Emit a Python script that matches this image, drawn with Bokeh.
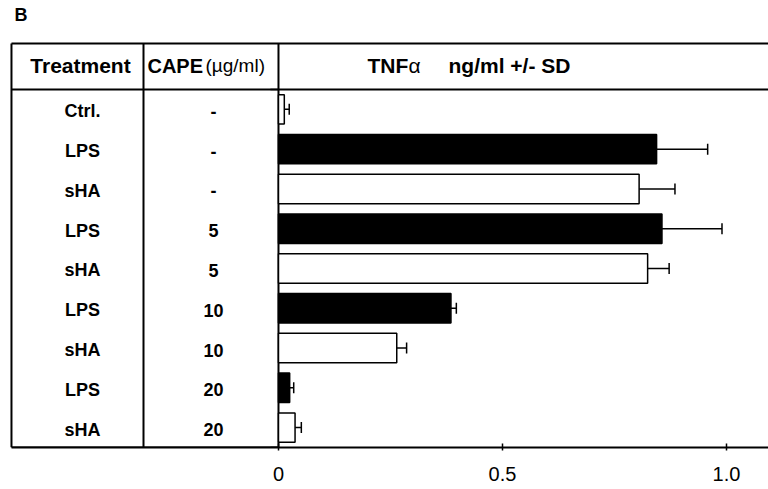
from bokeh.plotting import figure
from bokeh.models import ColumnDataSource, Range1d, FixedTicker, Whisker, TeeHead
from bokeh.core.properties import value
from bokeh.embed import file_html
from bokeh.resources import INLINE

# ---- data ----
treatments = ["Ctrl.", "LPS", "sHA", "LPS", "sHA", "LPS", "sHA", "LPS", "sHA"]
cape_doses = ["-", "-", "-", "5", "5", "10", "10", "20", "20"]
tnf_mean = [0.013, 0.844, 0.805, 0.856, 0.824, 0.385, 0.264, 0.025, 0.037]
tnf_sd = [0.011, 0.114, 0.080, 0.134, 0.048, 0.012, 0.022, 0.009, 0.014]
x_ticks = [0, 0.5, 1.0]
x_tick_labels = ["0", "0.5", "1.0"]

FONT = value("Liberation Sans")

rows = list(range(len(treatments)))
fills = ["black" if t == "LPS" else "white" for t in treatments]
upper = [m + s for m, s in zip(tnf_mean, tnf_sd)]
src = ColumnDataSource(dict(y=rows, mean=tnf_mean, upper=upper, fill=fills,
                            treat=treatments, cape=cape_doses))

# ---- layout constants (data units) ----
X_LEFT = -0.6205
X_RIGHT = 1.0938
TBL_LEFT = -0.596
COL1 = -0.3013
HDR_TOP = -1.656
HDR_BOT = -0.5
ROW_BOT = len(treatments) - 0.5
HDR_Y = -1.09

p = figure(width=768, height=489, output_backend="svg", toolbar_location=None,
           x_range=Range1d(X_LEFT, X_RIGHT), y_range=Range1d(ROW_BOT, -2.736),
           y_axis_location=None, min_border_left=0, min_border_right=0,
           min_border_top=0, min_border_bottom=42)
p.outline_line_color = None
p.xgrid.visible = False
p.ygrid.visible = False
p.background_fill_color = "white"
p.border_fill_color = "white"

# table lines
lw = 2
p.segment(x0=[TBL_LEFT, TBL_LEFT, TBL_LEFT, TBL_LEFT, COL1, 0],
          y0=[HDR_TOP, HDR_BOT, ROW_BOT, HDR_TOP, HDR_TOP, HDR_TOP],
          x1=[X_RIGHT, X_RIGHT, 0, TBL_LEFT, COL1, 0],
          y1=[HDR_TOP, HDR_BOT, ROW_BOT, ROW_BOT, ROW_BOT, ROW_BOT],
          line_color="black", line_width=lw)
# small end ticks on the value axis origin
p.segment(x0=[-0.018, -0.018], y0=[HDR_BOT, ROW_BOT], x1=[0, 0], y1=[HDR_BOT, ROW_BOT],
          line_color="black", line_width=1.5)

# bars
p.hbar(y="y", left=0, right="mean", height=0.74, source=src,
       fill_color="fill", line_color="black", line_width=1.5)

# error bars
w = Whisker(source=src, base="y", lower="mean", upper="upper", dimension="width",
            lower_head=None, upper_head=TeeHead(size=11, line_width=1.5, line_color="black"),
            line_width=1.5, line_color="black")
p.add_layout(w)

# table text
p.text(x=-0.4375, y="y", text="treat", source=src, y_offset=2,
       text_font=FONT, text_font_style="bold", text_font_size="18px",
       text_align="center", text_baseline="middle", text_color="black")
p.text(x=-0.1451, y="y", text="cape", source=src, y_offset=2,
       text_font=FONT, text_font_style="bold", text_font_size="18px",
       text_align="center", text_baseline="middle", text_color="black")

# header
p.text(x=[-0.4420], y=[HDR_Y], text=["Treatment"], text_font=FONT,
       text_font_style="bold", text_font_size="21px", text_align="center",
       text_baseline="middle", text_color="black")
p.text(x=[-0.2924], y=[HDR_Y], text=["CAPE"], text_font=FONT,
       text_font_style="bold", text_font_size="20px", text_align="left",
       text_baseline="middle", text_color="black")
p.text(x=[-0.1629], y=[HDR_Y], text=["(µg/ml)"], text_font=FONT,
       text_font_size="19px", text_align="left",
       text_baseline="middle", text_color="black")
p.text(x=[0.1987], y=[HDR_Y], text=["TNF"], text_font=FONT,
       text_font_style="bold", text_font_size="21px", text_align="left",
       text_baseline="middle", text_color="black")
p.text(x=[0.2902], y=[HDR_Y], text=["α"], text_font=FONT,
       text_font_size="21px", text_align="left",
       text_baseline="middle", text_color="black")
p.text(x=[0.3795], y=[HDR_Y], text=["ng/ml +/- SD"], text_font=FONT,
       text_font_style="bold", text_font_size="21px", text_align="left",
       text_baseline="middle", text_color="black")
p.text(x=[-0.5893], y=[-2.36], text=["B"], text_font=FONT,
       text_font_style="bold", text_font_size="18px", text_align="left",
       text_baseline="middle", text_color="black")

# x axis
ax = p.xaxis[0]
ax.ticker = FixedTicker(ticks=x_ticks)
ax.major_label_overrides = {t: l for t, l in zip(x_ticks, x_tick_labels)}
ax.minor_tick_line_color = None
ax.major_tick_in = 4
ax.major_tick_out = 3
ax.axis_line_width = 2
ax.major_tick_line_width = 1.5
ax.axis_line_color = "black"
ax.major_tick_line_color = "black"
ax.major_label_text_font = "Liberation Sans"
ax.major_label_text_font_size = "20px"
ax.major_label_text_color = "black"
ax.major_label_standoff = 16
ax.bounds = (TBL_LEFT, X_RIGHT)

open("out.html", "w").write(file_html(p, INLINE))
